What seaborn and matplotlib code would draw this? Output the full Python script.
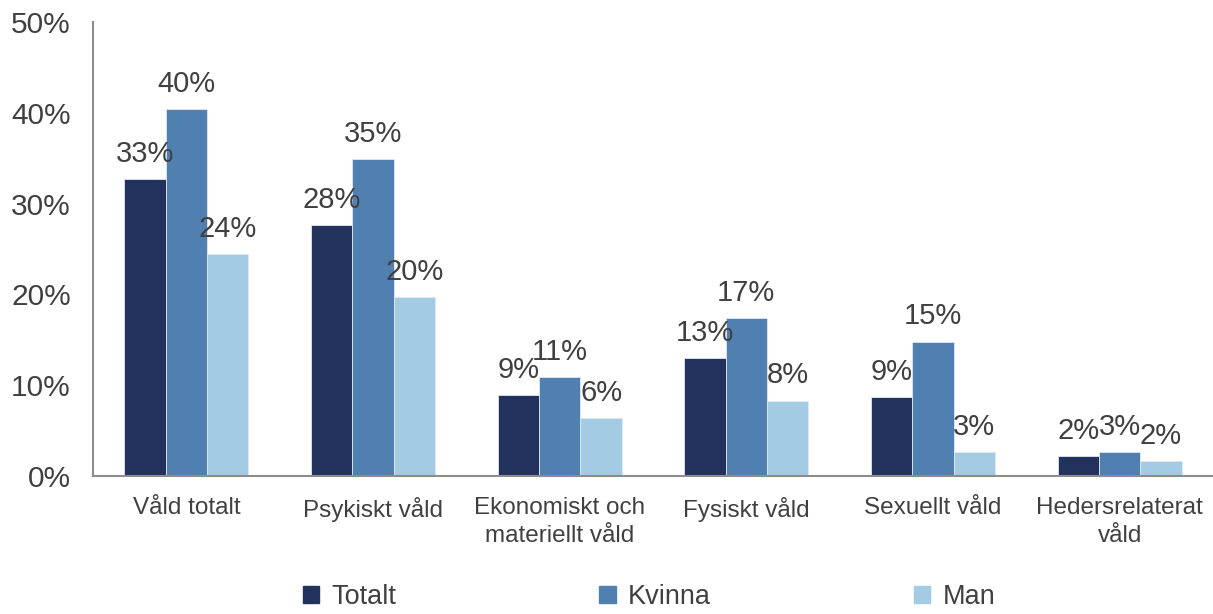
import matplotlib
matplotlib.use("Agg")
import matplotlib.pyplot as plt
import numpy as np
import pandas as pd
import seaborn as sns

kategorier = ["Våld totalt", "Psykiskt våld", "Ekonomiskt och\nmateriellt våld",
              "Fysiskt våld", "Sexuellt våld", "Hedersrelaterat\nvåld"]
grupper = ["Totalt", "Kvinna", "Man"]
totalt = [32.7, 27.6, 8.9, 13.0, 8.7, 2.2]
kvinna = [40.4, 34.9, 10.9, 17.4, 14.8, 2.6]
man = [24.4, 19.7, 6.4, 8.3, 2.6, 1.6]
farger = ["#22325C", "#4F80B0", "#A3CBE3"]

df = pd.DataFrame({
    "kategori": kategorier * 3,
    "grupp": np.repeat(grupper, len(kategorier)),
    "andel": totalt + kvinna + man,
})

sns.set_style("white")
plt.rcParams["font.family"] = ["Liberation Sans", "DejaVu Sans"]
text_farg = "#404040"
axel_farg = "#8C8C8C"

fig = plt.figure(figsize=(12.13, 6.14), dpi=100)
ax = fig.add_axes([0.0767, 0.2248, 0.9233, 0.7394])

sns.barplot(data=df, x="kategori", y="andel", hue="grupp", palette=farger,
            saturation=1, width=0.665, ax=ax, legend=False,
            linewidth=0.6, edgecolor="#dfe8f0")

for cont in ax.containers:
    vals = [b.get_height() for b in cont]
    ax.bar_label(cont, labels=[f"{v:.0f}%" for v in vals], padding=8,
                 fontsize=21, color=text_farg)

ax.set_ylim(0, 50)
ax.set_xlim(-0.5, 5.5)
ax.set_yticks(range(0, 51, 10))
ax.set_yticklabels([f"{v}%" for v in range(0, 51, 10)], fontsize=21.5, color=text_farg)
ax.set_xticklabels(kategorier, fontsize=17.5, color=text_farg, linespacing=1.35)
ax.set_xlabel("")
ax.set_ylabel("")

ax.tick_params(axis="x", which="major", length=0, pad=15)
ax.set_xticks(np.arange(-0.5, 6.0, 1.0), minor=True)
ax.tick_params(axis="x", which="minor", length=7, width=1.5, color=axel_farg, direction="out")
ax.tick_params(axis="y", length=6, width=1.5, color=axel_farg, direction="out", pad=10)

for side in ["top", "right"]:
    ax.spines[side].set_visible(False)
for side in ["left", "bottom"]:
    ax.spines[side].set_color(axel_farg)
    ax.spines[side].set_linewidth(1.5)

handles = [plt.Rectangle((0, 0), 1, 1, color=c) for c in farger]
fig.legend(handles, grupper, loc="center", bbox_to_anchor=(0.535, 0.028), ncol=3,
           frameon=False, fontsize=19.5, handlelength=0.6, handleheight=0.6,
           handletextpad=0.45, columnspacing=7.5, labelcolor=text_farg)

fig.savefig("out.png", dpi=100)
